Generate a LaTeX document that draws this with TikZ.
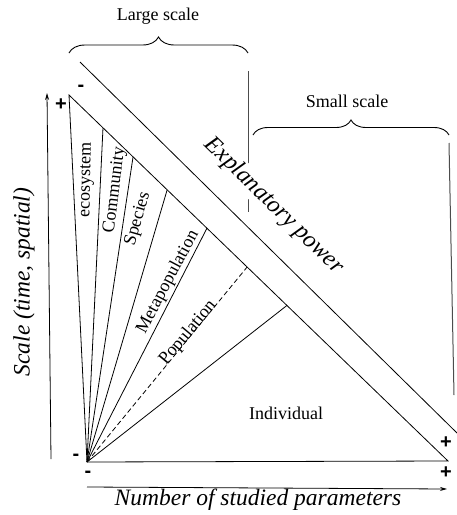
\documentclass[tikz,border=0pt]{standalone}
\usepackage{fontspec}
\setmainfont{Liberation Serif}
\newfontfamily\signfont{Liberation Sans}
\usetikzlibrary{arrows.meta,decorations.pathreplacing,calc}
\begin{document}
\begin{tikzpicture}[x=1pt,y=-1pt, line width=0.9pt,
  lbl/.style={inner sep=0pt, font=\fontsize{18}{20}\selectfont},
  axislbl/.style={inner sep=0pt, font=\fontsize{23.5}{26}\selectfont\itshape},
  signlbl/.style={inner sep=0pt, font=\signfont\bfseries\fontsize{20}{20}\selectfont},
  brc/.style={decorate, decoration={brace, amplitude=16pt}, line width=0.9pt},
  fan/.style={line width=0.8pt},
  divider/.style={line width=1pt, draw=black!70},
  axarrow/.style={-{Stealth[length=7pt,width=4pt]}, line width=0.8pt}]
\useasboundingbox (0,0) rectangle (457,515);

% main points
\coordinate (T) at (69,95);
\coordinate (R) at (448,461);
\coordinate (O) at (87,462);
\coordinate (A) at (80,62);
\coordinate (B) at (457,433);
\coordinate (p1) at ($(T)!0.0897!(R)$);
\coordinate (p2) at ($(T)!0.169!(R)$);
\coordinate (p3) at ($(T)!0.259!(R)$);
\coordinate (p4) at ($(T)!0.364!(R)$);
\coordinate (p5) at ($(T)!0.470!(R)$);
\coordinate (p6) at ($(T)!0.575!(R)$);

% triangle
\draw[fan] (O) -- (T) -- (R) -- (O);
\draw[fan] (O) -- (p1);
\draw[fan] (O) -- (p2);
\draw[fan] (O) -- (p3);
\draw[fan] (O) -- (p4);
\draw[fan, dash pattern=on 5pt off 3pt] (O) -- (p5);
\draw[fan] (O) -- (p6);

% explanatory band
\draw[fan] (A) -- (B);

% vertical dividers
\coordinate (v1a) at (248,71);
\coordinate (v1b) at (248,212);
\coordinate (v2a) at (449,143);
\coordinate (v2b) at (454,395);
\draw[divider] (v1a) -- (v1b);
\draw[divider] (v2a) -- (v2b);

% braces
\coordinate (bl1) at (69,53);
\coordinate (bl2) at (248,53);
\coordinate (bs1) at (253,135);
\coordinate (bs2) at (449,135);
\draw[brc] (bl1) -- (bl2);
\draw[brc, decoration={brace, amplitude=15pt}] (bs1) -- (bs2);
\node[lbl] (large) at (158,16) {Large scale};
\node[lbl] (small) at (347,101) {Small scale};

% explanatory power
\node[inner sep=2pt, fill=white, rotate=-44.3, font=\fontsize{24}{26}\selectfont\itshape] (expl) at (274,206) {Explanatory power};

% fan labels
\node[lbl, rotate=89] (eco) at (87,180) {ecosystem};
\node[lbl, rotate=83] (comm) at (115,190) {Community};
\node[lbl, rotate=74] (spec) at (138,219) {Species};
\node[lbl, rotate=62] (meta) at (168,282) {Metapopulation};
\node[lbl, rotate=50] (pop) at (188,333) {Population};
\node[lbl] (ind) at (286,413) {Individual};

% axes
\coordinate (ya) at (51,459);
\coordinate (yb) at (47,93);
\coordinate (xa) at (87,487);
\coordinate (xb) at (447,489);
\draw[axarrow] (ya) -- (yb);
\draw[axarrow] (xa) -- (xb);
\node[axislbl, rotate=90] (ylab) at (24,282) {Scale (time, spatial)};
\node[axislbl] (xlab) at (258,500) {Number of studied parameters};

% signs
\node[signlbl] (s1) at (61,105) {+};
\node[signlbl] (s2) at (81,88) {-};
\node[signlbl] (s3) at (76,457) {-};
\node[signlbl] (s4) at (88,474) {-};
\node[signlbl] (s5) at (446,443) {+};
\node[signlbl] (s6) at (446,473) {+};
\end{tikzpicture}
\end{document}
